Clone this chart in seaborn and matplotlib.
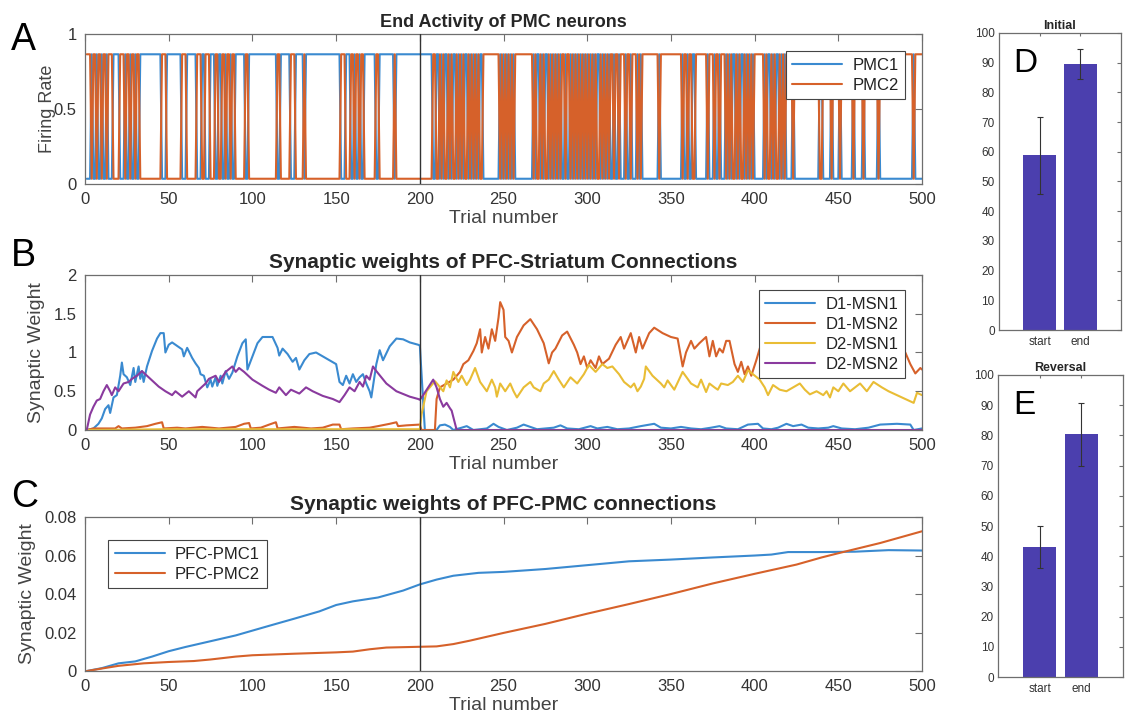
import numpy as np
import pandas as pd
import matplotlib
matplotlib.use("Agg")
import matplotlib.pyplot as plt
import seaborn as sns

# ---------------- data ----------------
n_trials = 500
switch_trial = 200
trial_tick_values = list(range(0, 501, 50))

# Panel A: which PMC neuron wins each trial
pmc2_win_before_switch = [1, 2, 3, 5, 6, 8, 9, 11, 12, 14, 15, 16, 21, 22, 23, 25, 26, 28, 29, 31, 32,
                          46, 47, 48, 58, 59, 60, 67, 68, 69, 72, 73, 74, 78, 79, 82, 83, 85, 86, 88, 89,
                          96, 97, 115, 116, 123, 124, 125, 131, 153, 154, 155, 159, 160, 162, 163, 165, 166,
                          174, 175, 185]
pmc1_still_wins_until = 208
pmc1_win_after_switch = [210, 211, 213, 215, 216, 218, 220, 221, 223, 225, 227, 228, 230, 232, 234, 236, 237,
                         248, 250, 252, 254, 256, 268, 270, 271, 273, 275, 276, 278, 280, 282, 284, 287, 290,
                         292, 294, 296, 298, 300, 302, 304, 306, 307, 309, 311, 313, 316, 319, 323, 326, 330,
                         332, 343, 357, 360, 363, 364, 372, 376, 379, 383, 385, 387, 388, 390, 392, 393, 395,
                         397, 399, 406, 408, 409, 411, 413, 414, 416, 418, 423, 439, 440, 446, 451, 459, 465,
                         474, 495]
rate_high = 0.865
rate_low = 0.035

# Panel B: synaptic weights PFC-Striatum (trial, weight) read points
d1_msn1_t = [1, 5, 8, 10, 12, 14, 15, 17, 19, 21, 22, 23, 25, 27, 29, 30, 32, 33, 34, 35, 37, 40, 43, 45, 47, 48,
             50, 52, 56, 58, 59, 61, 64, 66, 68, 69, 71, 73, 75, 76, 78, 79, 81, 82, 84, 86, 88, 91, 94, 96, 97,
             100, 103, 106, 112, 115, 116, 118, 121, 124, 126, 128, 131, 134, 138, 142, 146, 150, 152, 154, 156,
             158, 160, 162, 164, 166, 168, 170, 171, 174, 176, 178, 182, 186, 190, 194, 199, 200, 203, 205, 210,
             212, 215, 218, 220, 225, 228, 232, 240, 244, 247, 252, 258, 262, 266, 270, 280, 284, 288, 295, 302,
             306, 312, 318, 325, 332, 340, 344, 350, 356, 362, 368, 374, 379, 383, 390, 396, 402, 405, 410, 414,
             419, 423, 428, 432, 438, 444, 447, 452, 460, 468, 475, 485, 493, 495, 500]
d1_msn1_w = [0, 0.02, 0.08, 0.15, 0.27, 0.32, 0.22, 0.42, 0.45, 0.7, 0.87, 0.72, 0.68, 0.58, 0.8, 0.62, 0.82, 0.66,
             0.76, 0.62, 0.82, 1.02, 1.18, 1.25, 1.25, 1.0, 1.1, 1.13, 1.07, 1.04, 0.95, 1.06, 0.93, 0.86, 0.8,
             0.72, 0.7, 0.55, 0.65, 0.56, 0.68, 0.57, 0.7, 0.6, 0.76, 0.66, 0.74, 0.95, 1.12, 1.17, 0.78, 0.95,
             1.12, 1.2, 1.2, 1.06, 0.96, 1.05, 0.98, 0.88, 0.93, 0.78, 0.9, 0.98, 1.0, 0.95, 0.9, 0.85, 0.62, 0.58,
             0.7, 0.6, 0.72, 0.62, 0.68, 0.72, 0.6, 0.5, 0.42, 0.85, 1.03, 0.9, 1.08, 1.18, 1.17, 1.13, 1.1, 1.09,
             0.0, 0.0, 0.0, 0.06, 0.07, 0.04, 0.0, 0.03, 0.05, 0.0, 0.02, 0.08, 0.04, 0.0, 0.03, 0.07, 0.04, 0.01,
             0.03, 0.06, 0.02, 0.01, 0.05, 0.02, 0.04, 0.01, 0.02, 0.05, 0.08, 0.03, 0.02, 0.04, 0.02, 0.01, 0.03,
             0.05, 0.02, 0.01, 0.07, 0.08, 0.02, 0.01, 0.03, 0.08, 0.05, 0.07, 0.03, 0.02, 0.03, 0.05, 0.02, 0.01,
             0.03, 0.07, 0.08, 0.07, 0.0, 0.02]

d1_msn2_t = [1, 5, 18, 20, 22, 30, 37, 42, 46, 47, 55, 60, 70, 80, 90, 95, 98, 99, 105, 110, 114, 115, 125, 135,
             142, 148, 152, 153, 160, 170, 175, 182, 186, 187, 192, 200, 201, 209, 210, 212, 216, 220, 224, 226,
             229, 232, 234, 236, 237, 239, 241, 243, 245, 247, 248, 250, 251, 253, 255, 258, 262, 266, 270, 274,
             277, 279, 281, 285, 288, 292, 294, 296, 298, 300, 302, 305, 307, 309, 313, 317, 320, 322, 326, 329,
             331, 333, 337, 340, 345, 350, 354, 357, 359, 362, 364, 367, 371, 373, 375, 377, 379, 381, 383, 385,
             388, 390, 392, 394, 396, 398, 401, 404, 410, 418, 425, 432, 440, 448, 455, 462, 468, 474, 480, 486,
             490, 493, 496, 499, 500]
d1_msn2_w = [0, 0.02, 0.02, 0.05, 0.02, 0.03, 0.05, 0.08, 0.1, 0.02, 0.03, 0.02, 0.04, 0.02, 0.04, 0.08, 0.09,
             0.02, 0.03, 0.07, 0.1, 0.02, 0.04, 0.02, 0.03, 0.07, 0.07, 0.01, 0.02, 0.03, 0.05, 0.08, 0.1, 0.05,
             0.06, 0.07, 0.0, 0.0, 0.4, 0.55, 0.6, 0.65, 0.75, 0.85, 0.9, 1.02, 1.12, 1.3, 1.0, 1.2, 1.05, 1.3,
             1.15, 1.45, 1.65, 1.55, 1.2, 1.15, 1.0, 1.2, 1.35, 1.43, 1.3, 1.12, 0.86, 1.0, 1.05, 1.22, 1.27, 1.1,
             1.0, 0.85, 0.95, 0.8, 0.9, 0.8, 0.95, 0.85, 0.92, 1.1, 1.2, 1.05, 1.25, 1.0, 1.2, 1.05, 1.25, 1.32,
             1.25, 1.2, 1.18, 0.82, 1.0, 1.15, 1.05, 1.12, 1.2, 0.95, 1.15, 0.95, 1.05, 1.0, 1.15, 1.15, 0.85,
             0.75, 0.88, 0.72, 0.82, 0.7, 0.9, 1.12, 1.15, 1.0, 1.1, 0.95, 1.05, 0.9, 1.05, 1.0, 1.1, 1.05, 0.95,
             1.08, 1.0, 0.85, 0.73, 0.8, 0.78]

d2_msn1_t = [1, 50, 100, 150, 200, 201, 204, 209, 211, 214, 216, 218, 220, 223, 225, 228, 230, 233, 236, 240,
             243, 245, 246, 248, 251, 254, 256, 258, 262, 266, 268, 272, 274, 277, 280, 283, 286, 290, 294, 298,
             301, 305, 309, 312, 315, 319, 322, 326, 328, 330, 332, 334, 335, 339, 344, 346, 348, 352, 357, 362,
             366, 368, 371, 373, 376, 378, 380, 384, 387, 390, 393, 396, 399, 403, 406, 408, 411, 415, 419, 423,
             427, 430, 433, 437, 441, 443, 445, 447, 450, 453, 457, 460, 463, 467, 471, 476, 480, 485, 490, 495,
             497, 500]
d2_msn1_w = [0, 0.01, 0.01, 0.01, 0.01, 0.2, 0.5, 0.63, 0.58, 0.5, 0.64, 0.55, 0.75, 0.62, 0.7, 0.58, 0.65, 0.8,
             0.62, 0.5, 0.65, 0.55, 0.43, 0.6, 0.5, 0.6, 0.5, 0.42, 0.55, 0.62, 0.55, 0.5, 0.6, 0.65, 0.76, 0.65,
             0.55, 0.68, 0.6, 0.72, 0.84, 0.75, 0.85, 0.8, 0.82, 0.72, 0.62, 0.55, 0.6, 0.5, 0.56, 0.66, 0.82,
             0.7, 0.6, 0.55, 0.64, 0.52, 0.75, 0.6, 0.55, 0.65, 0.49, 0.6, 0.55, 0.52, 0.6, 0.58, 0.62, 0.7, 0.62,
             0.77, 0.72, 0.65, 0.55, 0.45, 0.58, 0.52, 0.5, 0.55, 0.6, 0.52, 0.46, 0.5, 0.45, 0.5, 0.42, 0.55,
             0.5, 0.6, 0.5, 0.55, 0.6, 0.5, 0.62, 0.55, 0.5, 0.45, 0.4, 0.35, 0.48, 0.45]

d2_msn2_t = [1, 3, 5, 7, 9, 11, 13, 15, 16, 18, 20, 23, 26, 28, 31, 34, 39, 44, 48, 52, 54, 58, 62, 66, 67, 72,
             74, 78, 80, 84, 88, 90, 92, 95, 100, 106, 110, 114, 116, 120, 123, 128, 132, 136, 142, 148, 152, 155,
             158, 161, 164, 166, 168, 170, 172, 174, 180, 186, 194, 199, 200, 202, 205, 208, 210, 212, 214, 216,
             218, 219, 222, 500]
d2_msn2_w = [0, 0.2, 0.3, 0.38, 0.4, 0.5, 0.58, 0.5, 0.45, 0.55, 0.5, 0.6, 0.62, 0.66, 0.7, 0.76, 0.66, 0.56,
             0.5, 0.45, 0.5, 0.43, 0.5, 0.42, 0.5, 0.6, 0.66, 0.7, 0.62, 0.75, 0.82, 0.75, 0.8, 0.75, 0.65, 0.57,
             0.52, 0.48, 0.55, 0.45, 0.52, 0.47, 0.55, 0.5, 0.44, 0.4, 0.36, 0.45, 0.55, 0.5, 0.62, 0.56, 0.7,
             0.65, 0.82, 0.76, 0.6, 0.5, 0.43, 0.4, 0.39, 0.45, 0.55, 0.65, 0.55, 0.4, 0.3, 0.35, 0.28, 0.25, 0.0,
             0.0]

# Panel C: synaptic weights PFC-PMC
pfc_pmc1_t = [1, 10, 20, 30, 40, 50, 60, 75, 90, 100, 110, 125, 140, 150, 160, 175, 190, 200, 210, 220, 235,
              250, 275, 300, 325, 350, 375, 400, 410, 420, 440, 460, 480, 500]
pfc_pmc1_w = [0, 0.0015, 0.004, 0.005, 0.0075, 0.0103, 0.0125, 0.0155, 0.0185, 0.021, 0.0235, 0.0272, 0.031,
              0.0343, 0.0362, 0.0382, 0.0418, 0.045, 0.0475, 0.0495, 0.051, 0.0515, 0.053, 0.055, 0.057, 0.0579,
              0.059, 0.060, 0.0605, 0.0618, 0.0618, 0.062, 0.0628, 0.0626]
pfc_pmc2_t = [1, 10, 20, 35, 50, 65, 75, 90, 100, 125, 150, 160, 170, 180, 200, 210, 220, 230, 250, 275, 300,
              325, 350, 375, 400, 425, 440, 450, 475, 500]
pfc_pmc2_w = [0, 0.0013, 0.0027, 0.004, 0.0047, 0.0052, 0.006, 0.0075, 0.0082, 0.009, 0.0097, 0.0101, 0.0113,
              0.0122, 0.0126, 0.0128, 0.014, 0.0158, 0.0198, 0.0245, 0.0298, 0.0348, 0.040, 0.0455, 0.0505,
              0.0553, 0.059, 0.0612, 0.0665, 0.0726]

# Panels D / E: accuracy (%)
phases = ["start", "end"]
initial_mean = [58.8, 89.6]
initial_err = [12.9, 5.1]
reversal_mean = [43.0, 80.3]
reversal_err = [7.0, 10.3]

# ---------------- style ----------------
sns.set_theme(style="white")
plt.rcParams["font.family"] = ["Liberation Sans", "DejaVu Sans"]

C_BLUE = "#3a8ad0"
C_ORANGE = "#d6612a"
C_YELLOW = "#e9bd35"
C_PURPLE = "#8a3a9e"
C_BAR = "#4b3fae"
FRAME = "#6e6e6e"
TXT = "#333333"
LBL = "#444444"

fig = plt.figure(figsize=(11.28, 7.21), dpi=100)
fig.patch.set_facecolor("white")

axA = fig.add_axes([0.0754, 0.7448, 0.742, 0.208])
axB = fig.add_axes([0.0754, 0.4036, 0.742, 0.215])
axC = fig.add_axes([0.0754, 0.0693, 0.742, 0.2136])
axD = fig.add_axes([0.8856, 0.5423, 0.1082, 0.412])
axE = fig.add_axes([0.8848, 0.061, 0.1108, 0.4189])


def matlab_style(ax, labelsize=12):
    for s in ax.spines.values():
        s.set_visible(True)
        s.set_color(FRAME)
        s.set_linewidth(0.9)
    ax.tick_params(direction="in", top=True, right=True, length=5, width=0.8,
                   color=FRAME, labelcolor=TXT, labelsize=labelsize, pad=6)
    ax.set_facecolor("white")


def style_legend(leg):
    fr = leg.get_frame()
    fr.set_edgecolor("#444444")
    fr.set_linewidth(0.8)
    fr.set_facecolor("white")
    fr.set_alpha(1)
    for t in leg.get_texts():
        t.set_color("#222222")


LEG_KW = dict(fontsize=12, fancybox=False, handlelength=3.0, borderpad=0.4,
              labelspacing=0.3, handletextpad=0.6, framealpha=1, borderaxespad=0)

# ---- Panel A ----
pmc1_wins = np.array([(t < pmc1_still_wins_until and t not in pmc2_win_before_switch) or
                      (t >= pmc1_still_wins_until and t in pmc1_win_after_switch)
                      for t in range(1, n_trials + 1)])
dfA = pd.DataFrame({"trial": np.arange(1, n_trials + 1),
                    "PMC1": np.where(pmc1_wins, rate_high, rate_low),
                    "PMC2": np.where(pmc1_wins, rate_low, rate_high)})
sns.lineplot(data=dfA, x="trial", y="PMC1", ax=axA, color=C_BLUE, lw=1.5, label="PMC1", errorbar=None)
sns.lineplot(data=dfA, x="trial", y="PMC2", ax=axA, color=C_ORANGE, lw=1.5, label="PMC2", errorbar=None)
axA.axvline(switch_trial, color="#333333", lw=1.0, zorder=5)
axA.set_xlim(0, n_trials)
axA.set_ylim(0, 1)
axA.set_yticks([0, 0.5, 1])
axA.set_yticklabels(["0", "0.5", "1"])
axA.set_xticks(trial_tick_values)
axA.set_title("End Activity of PMC neurons", fontsize=13, fontweight="bold", pad=5)
axA.set_xlabel("Trial number", fontsize=14, color=LBL, labelpad=2)
axA.set_ylabel("Firing Rate", fontsize=13, color=LBL)
axA.yaxis.set_label_coords(-0.035, 0.5)
matlab_style(axA)
legA = axA.legend(loc="upper right", bbox_to_anchor=(0.98, 0.887), **LEG_KW)
legA.set_zorder(10)
style_legend(legA)

# ---- Panel B ----
for tt, ww, col, lab in [(d1_msn1_t, d1_msn1_w, C_BLUE, "D1-MSN1"),
                         (d1_msn2_t, d1_msn2_w, C_ORANGE, "D1-MSN2"),
                         (d2_msn1_t, d2_msn1_w, C_YELLOW, "D2-MSN1"),
                         (d2_msn2_t, d2_msn2_w, C_PURPLE, "D2-MSN2")]:
    sns.lineplot(x=tt, y=ww, ax=axB, color=col, lw=1.5, label=lab, errorbar=None)
axB.axvline(switch_trial, color="#333333", lw=1.0, zorder=5)
axB.set_xlim(0, n_trials)
axB.set_ylim(0, 2)
axB.set_yticks([0, 0.5, 1, 1.5, 2])
axB.set_yticklabels(["0", "0.5", "1", "1.5", "2"])
axB.set_xticks(trial_tick_values)
axB.set_title("Synaptic weights of PFC-Striatum Connections", fontsize=15, fontweight="bold", pad=5)
axB.set_xlabel("Trial number", fontsize=14, color=LBL, labelpad=2)
axB.set_ylabel("Synaptic Weight", fontsize=14, color=LBL)
axB.yaxis.set_label_coords(-0.048, 0.5)
matlab_style(axB)
legB = axB.legend(loc="upper right", bbox_to_anchor=(0.98, 0.903), **LEG_KW)
legB.set_zorder(10)
style_legend(legB)

# ---- Panel C ----
sns.lineplot(x=pfc_pmc1_t, y=pfc_pmc1_w, ax=axC, color=C_BLUE, lw=1.5, label="PFC-PMC1", errorbar=None)
sns.lineplot(x=pfc_pmc2_t, y=pfc_pmc2_w, ax=axC, color=C_ORANGE, lw=1.5, label="PFC-PMC2", errorbar=None)
axC.axvline(switch_trial, color="#333333", lw=1.0, zorder=5)
axC.set_xlim(0, n_trials)
axC.set_ylim(0, 0.08)
axC.set_yticks([0, 0.02, 0.04, 0.06, 0.08])
axC.set_yticklabels(["0", "0.02", "0.04", "0.06", "0.08"])
axC.set_xticks(trial_tick_values)
axC.set_title("Synaptic weights of PFC-PMC connections", fontsize=15, fontweight="bold", pad=5)
axC.set_xlabel("Trial number", fontsize=14, color=LBL, labelpad=2)
axC.set_ylabel("Synaptic Weight", fontsize=14, color=LBL)
axC.yaxis.set_label_coords(-0.059, 0.5)
matlab_style(axC)
legC = axC.legend(loc="upper left", bbox_to_anchor=(0.0275, 0.851), **LEG_KW)
style_legend(legC)

# ---- Panels D / E ----
for ax, means, errs, title, letter in [(axD, initial_mean, initial_err, "Initial", "D"),
                                       (axE, reversal_mean, reversal_err, "Reversal", "E")]:
    dfb = pd.DataFrame({"phase": phases, "acc": means})
    sns.barplot(data=dfb, x="phase", y="acc", ax=ax, color=C_BAR, saturation=1, width=0.8,
                errorbar=None, edgecolor="none")
    ax.errorbar(x=[0, 1], y=means, yerr=errs, fmt="none", ecolor="#333333", elinewidth=0.8,
                capsize=2, capthick=0.8, zorder=5)
    ax.set_xlim(-1, 2)
    ax.set_ylim(0, 100)
    ax.set_yticks(range(0, 101, 10))
    ax.set_xlabel("")
    ax.set_ylabel("")
    matlab_style(ax, labelsize=8.5)
    ax.tick_params(axis="x", length=2, pad=4)
    ax.tick_params(axis="y", length=3, pad=3)
    ax.set_title(title, fontsize=9, fontweight="bold", pad=3)
    ax.text(0.12, 0.87, letter, transform=ax.transAxes, fontsize=24, color="black",
            ha="left", va="baseline")

# panel letters
fig.text(0.010, 1 - 50 / 721, "A", fontsize=27, color="black", ha="left", va="baseline")
fig.text(0.010, 1 - 266 / 721, "B", fontsize=27, color="black", ha="left", va="baseline")
fig.text(0.010, 1 - 507 / 721, "C", fontsize=27, color="black", ha="left", va="baseline")

fig.savefig("out.png", dpi=100, facecolor="white")
